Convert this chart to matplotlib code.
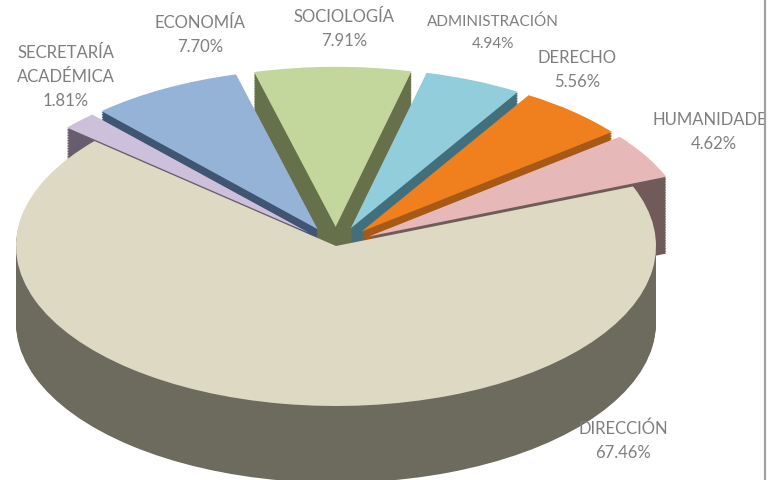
import matplotlib.pyplot as plt
from matplotlib.lines import Line2D
from matplotlib.patches import Rectangle

names = ['SECRETARÍA\nACADÉMICA', 'ECONOMÍA', 'SOCIOLOGÍA', 'ADMINISTRACIÓN',
         'DERECHO', 'HUMANIDADES', 'DIRECCIÓN']
shares = [1.81, 7.70, 7.91, 4.94, 5.56, 4.62, 67.46]

top_colors = ['#CCC0DA', '#95B3D7', '#C3D69B', '#92CDDC', '#F07F1E', '#E6B9B8', '#DDD9C3']
side_colors = ['#665E6E', '#3F5572', '#66704A', '#41707C', '#A65A15', '#705A5A', '#6C6B5E']
explode = [0.12, 0.12, 0.12, 0.12, 0.12, 0.12, 0.0]

# label placement in pixels (x center, y center) and font size
label_pos = [(66, 77), (200, 35), (344, 29), (493, 33), (577, 70), (714, 132), (623, 441)]
label_size = [12, 12, 12, 11, 12, 12, 12]

fig = plt.figure(figsize=(7.68, 4.81), dpi=100)
ax = fig.add_axes([0, 0, 1, 1])

depth = 0.48
steps = 48
common = dict(startangle=139, counterclock=False, explode=explode,
              wedgeprops=dict(linewidth=0), frame=False)
for k in range(steps, 0, -1):
    ax.pie(shares, colors=side_colors, center=(0, -depth * k / steps), **common)
ax.pie(shares, colors=top_colors, center=(0, 0), **common)

ax.set_aspect('auto')
ax.set_xlim(-336 / 320, (768 - 336) / 320)
ax.set_ylim((247 - 481) / 160, 247 / 160)
ax.axis('off')

clip = Rectangle((0, 0), 763.5 / 768, 1, transform=fig.transFigure)
for name, v, (px, py), fs in zip(names, shares, label_pos, label_size):
    t = fig.text(px / 768, 1 - py / 481, f'{name}\n{v:.2f}%', ha='center', va='center',
                 fontsize=fs, color='#7F7F7F', family='Lato',
                 linespacing=1.62 if fs == 12 else 1.7)
    t.set_clip_path(clip)

fig.add_artist(Line2D([764.5 / 768] * 2, [0, 1], color='#A0A0A0', lw=1.6,
                      transform=fig.transFigure))

fig.savefig('out.png', dpi=100)
